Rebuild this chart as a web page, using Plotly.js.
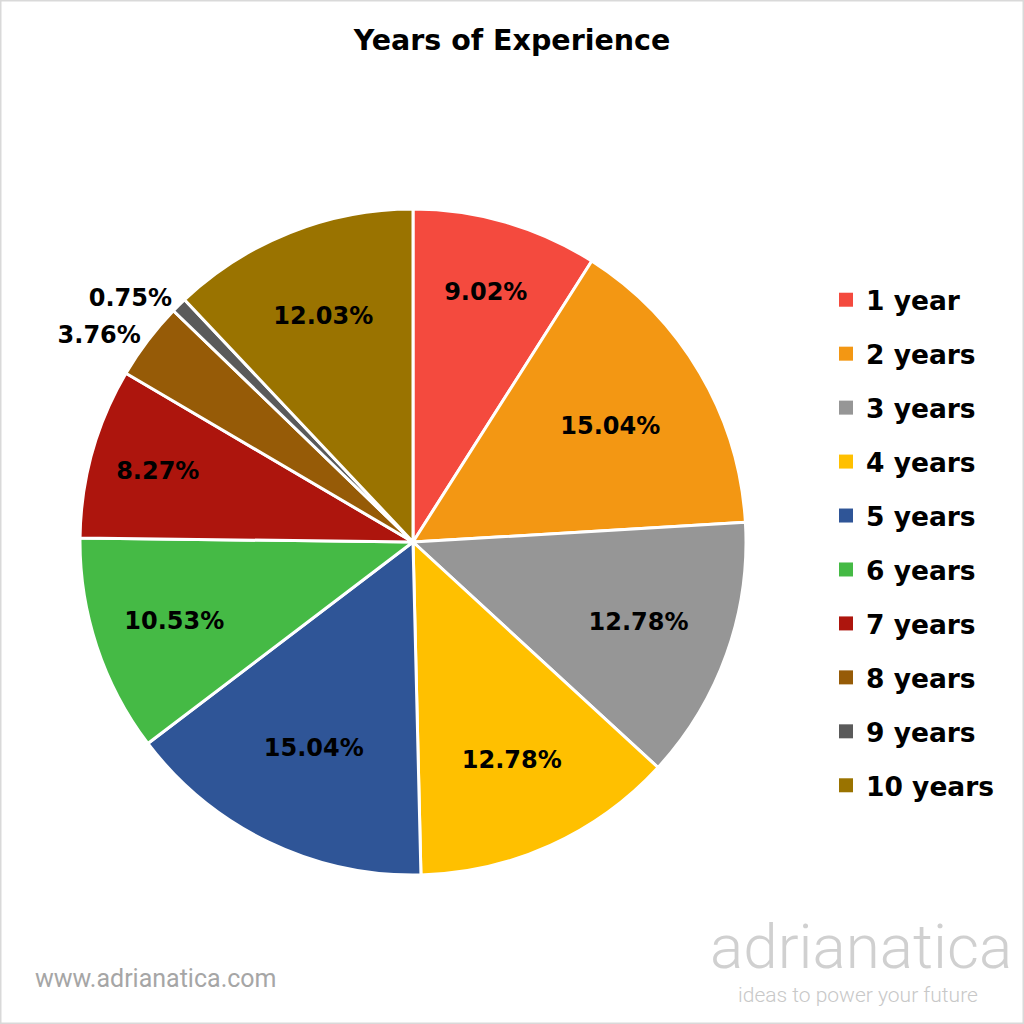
<!DOCTYPE html>
<html>
<head>
<meta charset="utf-8">
<script src="https://cdn.plot.ly/plotly-3.0.1.min.js"></script>
<style>
  html, body { margin: 0; padding: 0; background: #fff; }
  #chart { width: 1024px; height: 1024px; }
</style>
</head>
<body>
<div id="chart"></div>
<script>
const categories = ['1 year', '2 years', '3 years', '4 years', '5 years', '6 years', '7 years', '8 years', '9 years', '10 years'];
const shares = [9.02, 15.04, 12.78, 12.78, 15.04, 10.53, 8.27, 3.76, 0.75, 12.03];
const colors = ['#F44A3E', '#F39713', '#969696', '#FFC000', '#2F5597', '#45BA45', '#AD150D', '#965B07', '#5A5A5A', '#9A7300'];
const textPositions = ['inside', 'inside', 'inside', 'inside', 'inside', 'inside', 'inside', 'outside', 'outside', 'inside'];

const FONT = '"DejaVu Sans", "Open Sans", sans-serif';

const pie = {
  type: 'pie',
  labels: categories,
  values: shares,
  sort: false,
  direction: 'clockwise',
  rotation: 0,
  marker: { colors: colors, line: { color: '#ffffff', width: 3 } },
  texttemplate: '%{percent:.2%}',
  textposition: textPositions,
  insidetextorientation: 'horizontal',
  textfont: { family: FONT, size: 24, color: '#000000', weight: 'bold' },
  outsidetextfont: { family: FONT, size: 24, color: '#000000', weight: 'bold' },
  domain: { x: [80/1024, 746/1024], y: [149/1024, 815/1024] },
  hoverinfo: 'label+percent',
  showlegend: false
};

const legendTraces = categories.map((c, i) => ({
  type: 'scatter',
  mode: 'markers',
  x: [null], y: [null],
  name: c,
  legendgroup: 'g' + i,
  marker: { symbol: 'square', size: 14, color: colors[i] },
  showlegend: true,
  hoverinfo: 'skip'
}));

const layout = {
  width: 1024,
  height: 1024,
  margin: { l: 0, r: 0, t: 0, b: 0 },
  paper_bgcolor: '#ffffff',
  plot_bgcolor: '#ffffff',
  title: {
    text: 'Years of Experience',
    font: { family: FONT, size: 28.5, color: '#000000', weight: 'bold' },
    x: 0.5, xanchor: 'center',
    y: 1 - 40/1024, yanchor: 'middle'
  },
  xaxis: { visible: false },
  yaxis: { visible: false },
  showlegend: true,
  legend: {
    x: 826/1024, xanchor: 'left',
    y: 1 - 276/1024, yanchor: 'top',
    font: { family: FONT, size: 26.5, color: '#000000', weight: 'bold' },
    tracegroupgap: 16.5,
    traceorder: 'grouped',
    bgcolor: 'rgba(0,0,0,0)'
  },
  shapes: [{
    type: 'rect', xref: 'paper', yref: 'paper',
    x0: 0, x1: 1, y0: 0, y1: 1,
    line: { color: '#d9d9d9', width: 3 }
  }],
  annotations: [
    {
      text: 'www.adrianatica.com', xref: 'paper', yref: 'paper',
      x: 33/1024, xanchor: 'left', y: 1 - 978/1024, yanchor: 'middle',
      showarrow: false,
      font: { family: 'Roboto, sans-serif', size: 25, color: '#a6a6a6' }
    },
    {
      text: 'adrianatica', xref: 'paper', yref: 'paper',
      x: 861/1024, xanchor: 'center', y: 1 - 946/1024, yanchor: 'middle',
      showarrow: false,
      font: { family: 'Roboto, sans-serif', size: 62, color: '#d0d0d0', weight: 300 }
    },
    {
      text: 'ideas to power your future', xref: 'paper', yref: 'paper',
      x: 858/1024, xanchor: 'center', y: 1 - 995/1024, yanchor: 'middle',
      showarrow: false,
      font: { family: 'Roboto, sans-serif', size: 21, color: '#c8c8c8', weight: 300 }
    }
  ]
};

Plotly.newPlot('chart', [pie].concat(legendTraces), layout, { displayModeBar: false, staticPlot: true });
</script>
</body>
</html>
